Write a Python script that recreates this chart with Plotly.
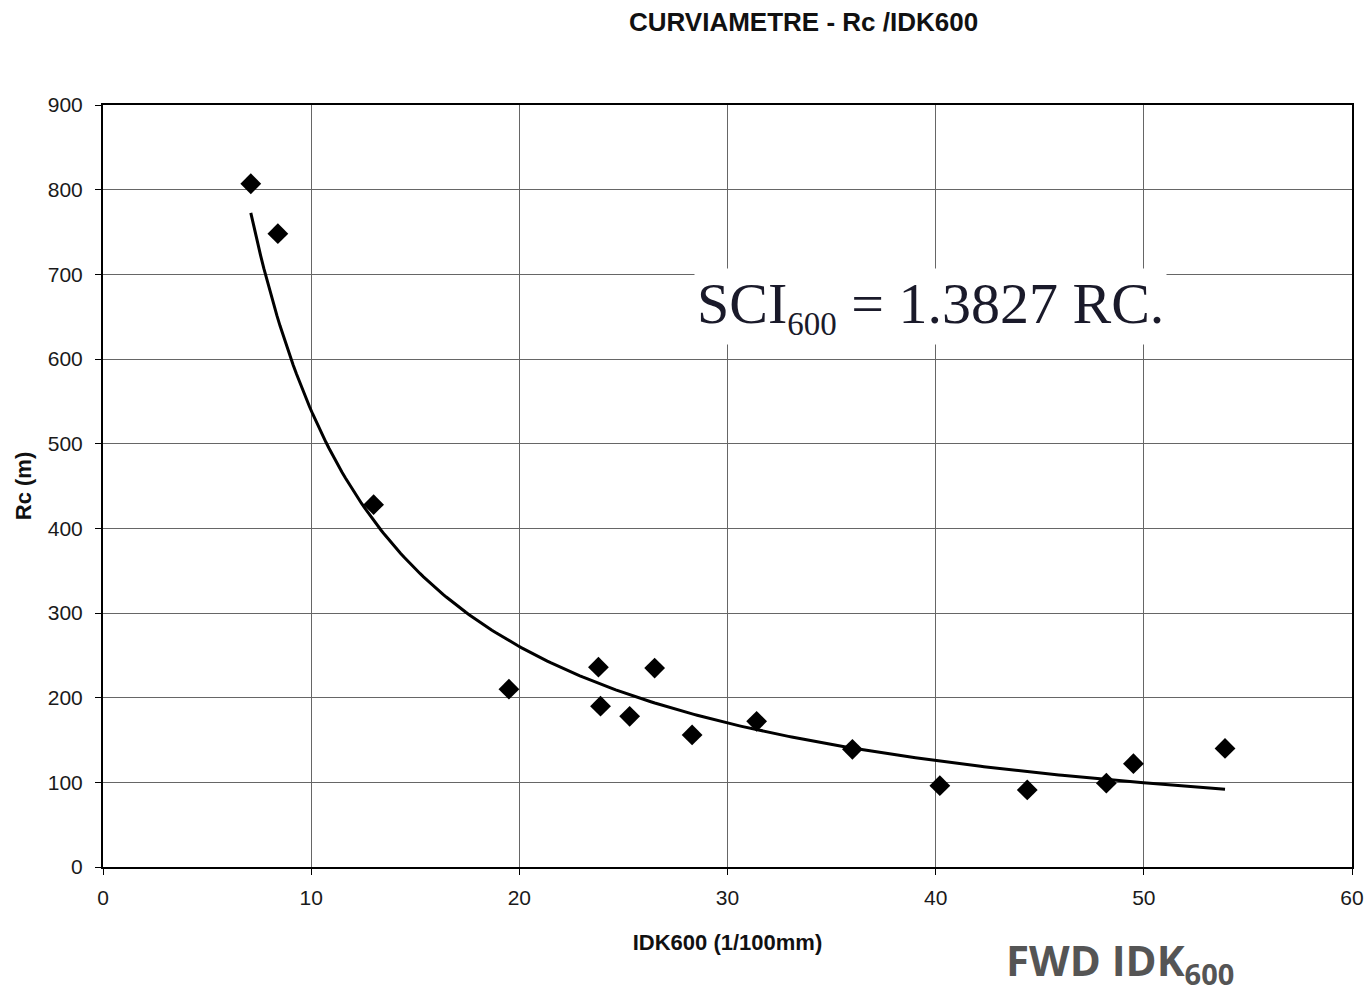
import numpy as np
import plotly.graph_objects as go

# Measured pairs: deflection IDK600 (1/100 mm) vs curvature radius Rc (m)
idk600 = [7.1, 8.4, 13.0, 19.5, 23.8, 23.9, 25.3, 26.5, 28.3, 31.4,
          36.0, 40.2, 44.4, 48.2, 49.5, 53.9]
rc = [807, 748, 428, 210, 236, 190, 178, 235, 156, 172,
      139, 96, 91, 99, 122, 140]

x_ticks = [0, 10, 20, 30, 40, 50, 60]
y_ticks = [0, 100, 200, 300, 400, 500, 600, 700, 800, 900]

# Power-law trend line (least squares on log-log), as a spreadsheet would draw it
b, ln_a = np.polyfit(np.log(idk600), np.log(rc), 1)
x_fit = np.linspace(min(idk600), max(idk600), 300)
y_fit = np.exp(ln_a) * x_fit ** b

fig = go.Figure()
fig.add_trace(go.Scatter(x=x_fit, y=y_fit, mode="lines",
                         line=dict(color="black", width=3), hoverinfo="skip"))
fig.add_trace(go.Scatter(x=idk600, y=rc, mode="markers",
                         marker=dict(symbol="diamond", size=16, color="black")))

W, H = 1367, 993
L, R, T, B = 103, 15, 105, 126
pw, ph = W - L - R, H - T - B


def px(x):
    return (x - L) / pw


def py(y):
    return (H - B - y) / ph


axis_font = dict(family="Liberation Sans, Arial", size=21, color="#1a1a1a")
title_font = dict(family="Liberation Sans, Arial", size=22, color="#111")

fig.update_layout(
    width=W, height=H, autosize=False,
    margin=dict(l=L, r=R, t=T, b=B, autoexpand=False),
    paper_bgcolor="white", plot_bgcolor="white",
    showlegend=False,
    xaxis=dict(range=[0, 60], tickvals=x_ticks, showgrid=True,
               gridcolor="#666", gridwidth=1.2, zeroline=False,
               showline=True, linecolor="black", linewidth=2, mirror=True,
               ticks="outside", ticklen=6, tickcolor="black",
               tickfont=axis_font, ticklabelstandoff=5, automargin=False,
               title=dict(text="<b>IDK600 (1/100mm)</b>", font=title_font,
                          standoff=26)),
    yaxis=dict(range=[0, 900], tickvals=y_ticks, showgrid=True,
               gridcolor="#666", gridwidth=1.2, zeroline=False,
               showline=True, linecolor="black", linewidth=2, mirror=True,
               ticks="outside", ticklen=6, tickcolor="black",
               tickfont=axis_font, ticklabelstandoff=8, automargin=False,
               title=dict(text="<b>Rc (m)</b>", font=title_font,
                          standoff=10)),
    annotations=[
        dict(text="<b>CURVIAMETRE - Rc /IDK600</b>", xref="paper", yref="paper",
             x=px(803), y=py(22), xanchor="center", yanchor="middle",
             showarrow=False,
             font=dict(family="Liberation Sans, Arial", size=26, color="#111")),
        dict(text="SCI<sub><span style='font-size:33px'>600</span></sub>"
                  " = 1.3827 RC.",
             xref="paper", yref="paper",
             x=px(930), y=py(306), xanchor="center", yanchor="middle",
             showarrow=False, bgcolor="white", borderpad=2,
             font=dict(family="Liberation Serif, Times New Roman", size=58,
                       color="#1a1a2a")),
        dict(text="<b>FWD IDK<sub><span style='font-size:29px'>600</span></sub></b>",
             xref="paper", yref="paper",
             x=px(1120), y=py(962), xanchor="center", yanchor="middle",
             showarrow=False,
             font=dict(family="Open Sans", size=42, color="#555")),
    ],
)

fig.write_html("out.html")
